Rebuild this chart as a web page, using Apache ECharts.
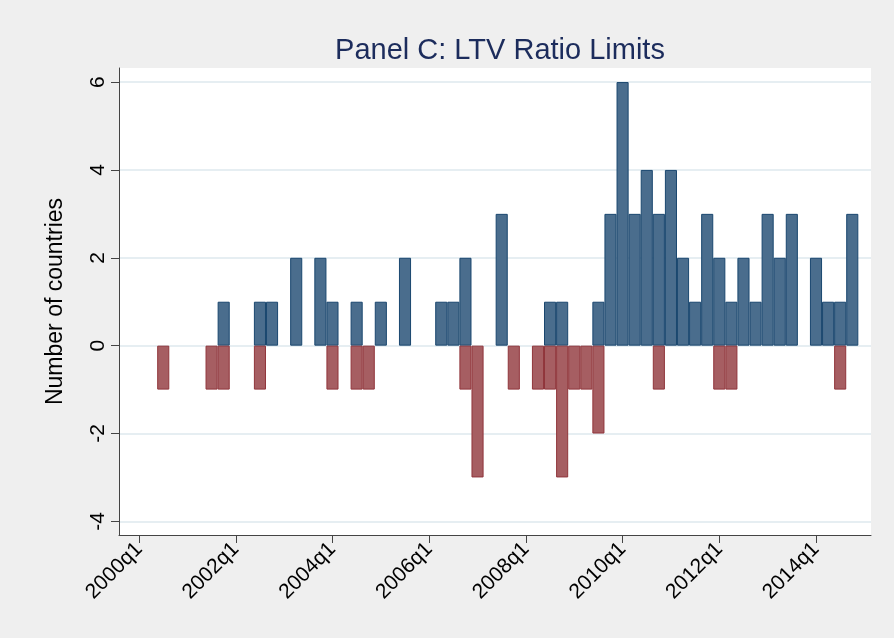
<!DOCTYPE html>
<html>
<head>
<meta charset="utf-8">
<script src="https://cdn.jsdelivr.net/npm/echarts@6/dist/echarts.min.js"></script>
<style>
  html, body { margin: 0; padding: 0; background: #efefef; }
  #ltv { width: 894px; height: 638px; }
</style>
</head>
<body>
<div id="ltv"></div>
<script>
// quarters with tightening (positive) and loosening (negative) of LTV limits
const tightenQuarters = ['2001q4', '2002q3', '2002q4', '2003q2', '2003q4', '2004q1', '2004q3', '2005q1',
  '2005q3', '2006q2', '2006q3', '2006q4', '2007q3', '2008q3', '2008q4', '2009q3', '2009q4', '2010q1',
  '2010q2', '2010q3', '2010q4', '2011q1', '2011q2', '2011q3', '2011q4', '2012q1', '2012q2', '2012q3',
  '2012q4', '2013q1', '2013q2', '2013q3', '2014q1', '2014q2', '2014q3', '2014q4'];
const tightenCounts = [1, 1, 1, 2, 2, 1, 1, 1, 2, 1, 1, 2, 3, 1, 1, 1, 3, 6, 3, 4, 3, 4, 2, 1, 3, 2, 1, 2,
  1, 3, 2, 3, 2, 1, 1, 3];

const loosenQuarters = ['2000q3', '2001q3', '2001q4', '2002q3', '2004q1', '2004q3', '2004q4', '2006q4',
  '2007q1', '2007q4', '2008q2', '2008q3', '2008q4', '2009q1', '2009q2', '2009q3', '2010q4', '2012q1',
  '2012q2', '2014q3'];
const loosenCounts = [-1, -1, -1, -1, -1, -1, -1, -1, -3, -1, -1, -1, -3, -1, -1, -2, -1, -1, -1, -1];

const xTickLabels = ['2000q1', '2002q1', '2004q1', '2006q1', '2008q1', '2010q1', '2012q1', '2014q1'];
const yTickValues = [-4, -2, 0, 2, 4, 6];

// quarter label -> number of quarters since 2000q1
function qIndex(q) {
  const year = parseInt(q.slice(0, 4), 10);
  const qq = parseInt(q.slice(5), 10);
  return (year - 2000) * 4 + (qq - 1);
}
function qLabel(i) {
  return (2000 + Math.floor(i / 4)) + 'q' + ((i % 4) + 1);
}

const xTicks = xTickLabels.map(qIndex);

const chart = echarts.init(document.getElementById('ltv'));
const option = {
  backgroundColor: '#efefef',
  animation: false,
  title: {
    text: 'Panel C: LTV Ratio Limits',
    left: 495,
    top: 31,
    textAlign: 'center',
    textStyle: {
      fontFamily: 'Liberation Sans',
      fontWeight: 'normal',
      fontSize: 29,
      color: '#1c2c5c',
    },
  },
  grid: {
    left: 119,
    right: 23,
    top: 68,
    bottom: 103,
    show: true,
    backgroundColor: '#ffffff',
    borderWidth: 0,
  },
  xAxis: {
    type: 'value',
    min: -1.66,
    max: 60.55,
    axisLine: { show: true, onZero: false, lineStyle: { color: '#444', width: 1 } },
    axisTick: {
      show: true,
      length: 8,
      customValues: xTicks,
      lineStyle: { color: '#444' },
    },
    axisLabel: {
      customValues: xTicks,
      rotate: 45,
      margin: 11,
      fontFamily: 'Liberation Sans',
      fontSize: 21,
      color: '#000',
      formatter: (v) => qLabel(Math.round(v)),
    },
    splitLine: { show: false },
  },
  yAxis: {
    type: 'value',
    min: -4.31,
    max: 6.32,
    name: 'Number of countries',
    nameLocation: 'middle',
    nameGap: 52,
    nameTextStyle: {
      fontFamily: 'Liberation Sans',
      fontSize: 23,
      color: '#000',
    },
    axisLine: { show: true, onZero: false, lineStyle: { color: '#444', width: 1 } },
    axisTick: {
      show: true,
      length: 8,
      customValues: yTickValues,
      lineStyle: { color: '#444' },
    },
    axisLabel: {
      customValues: yTickValues,
      rotate: 90,
      margin: 10,
      fontFamily: 'Liberation Sans',
      fontSize: 21,
      color: '#000',
    },
    splitLine: {
      show: true,
      lineStyle: { color: '#e6eef2', width: 2 },
    },
  },
  series: [
    {
      name: 'tighten',
      type: 'bar',
      barWidth: 12.1,
      barGap: '-100%',
      data: tightenQuarters.map((q, i) => [qIndex(q), tightenCounts[i]]),
      itemStyle: { color: '#4a6d8d', borderColor: '#1a476f', borderWidth: 1 },
    },
    {
      name: 'loosen',
      type: 'bar',
      barWidth: 12.1,
      barGap: '-100%',
      data: loosenQuarters.map((q, i) => [qIndex(q), loosenCounts[i]]),
      itemStyle: { color: '#a65e62', borderColor: '#90353b', borderWidth: 1 },
    },
  ],
};
chart.setOption(option);
</script>
</body>
</html>
